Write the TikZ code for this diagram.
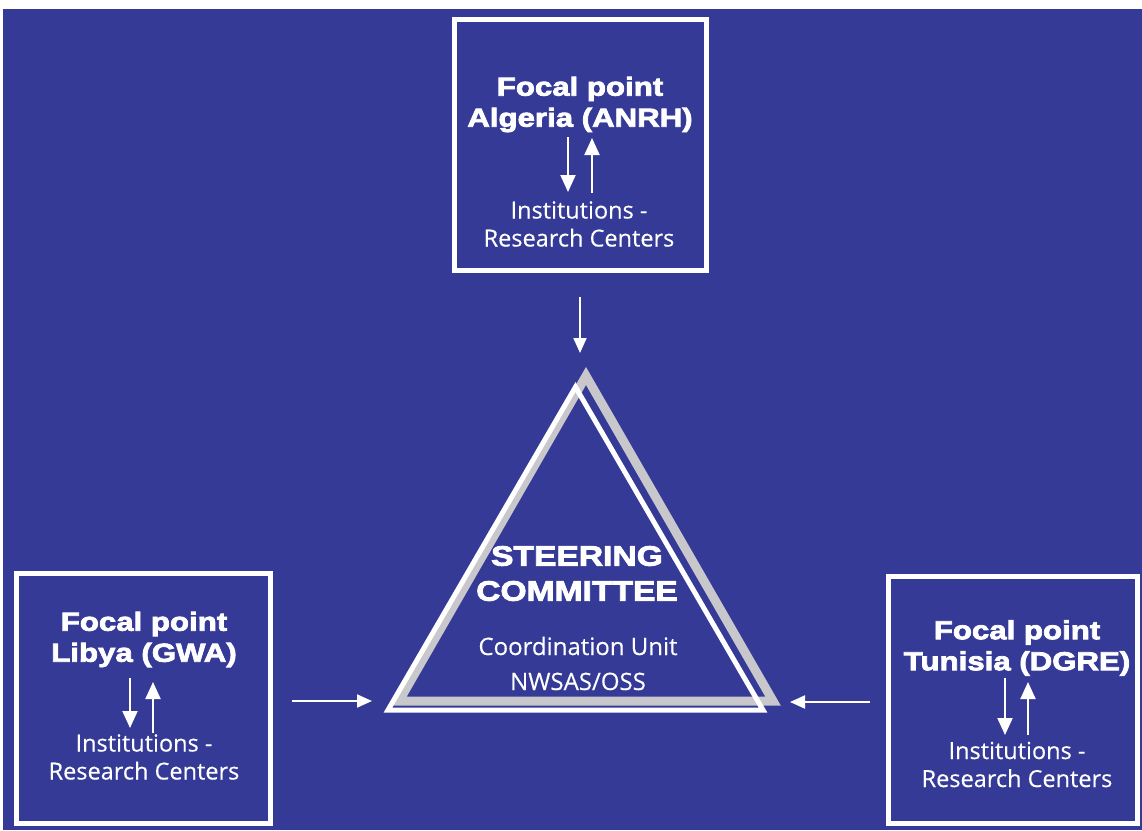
\documentclass[tikz,border=0pt]{standalone}
\usepackage{fontspec}
\setmainfont{Open Sans}
\newfontfamily\heavy{Liberation Sans}[UprightFont={* Bold}, FakeStretch=1.2, FakeBold=3]
\newfontfamily\plain{Open Sans}[FakeBold=0.3]
\usetikzlibrary{arrows.meta}
\definecolor{bgblue}{RGB}{52,58,150}
\definecolor{shadegray}{RGB}{200,200,204}
\begin{document}
\begin{tikzpicture}[x=1pt,y=-1pt,
  frame/.style={draw=white, line width=5pt, inner sep=0pt},
  titletxt/.style={text=white, align=center, font=\heavy\fontsize{26}{31}\selectfont, inner sep=0pt},
  insttxt/.style={text=white, align=center, font=\plain\fontsize{23.5}{28}\selectfont, inner sep=0pt},
  arr/.style={white, line width=2pt, -{Triangle[length=17pt,width=15pt]}},
  farr/.style={white, line width=2pt, -{Triangle[length=15pt,width=13pt]}}]
\useasboundingbox (0,0) rectangle (1142,830);
\fill[white] (0,0) rectangle (1142,830);
\fill[bgblue] (3,9) rectangle (1142,830);

% boxes
\node[frame, minimum width=252pt, minimum height=251pt] (alg) at (580.5,145) {};
\node[frame, minimum width=254pt, minimum height=250pt] (lib) at (143.5,698.5) {};
\node[frame, minimum width=249pt, minimum height=247pt] (tun) at (1013,700) {};

% Algeria
\node[titletxt] (algT) at (580,104.5) {Focal point\\Algeria (ANRH)};
\node[insttxt] (algI) at (579,224) {Institutions -\\Research Centers};
\coordinate (algD1) at (568,137); \coordinate (algD2) at (568,192);
\coordinate (algU1) at (592,193); \coordinate (algU2) at (592,138);
\draw[arr] (algD1) -- (algD2);
\draw[arr] (algU1) -- (algU2);

% Libya
\node[titletxt] (libT) at (144,639.5) {Focal point\\Libya (GWA)};
\node[insttxt] (libI) at (144,757) {Institutions -\\Research Centers};
\coordinate (libD1) at (130,678); \coordinate (libD2) at (130,728);
\coordinate (libU1) at (153,733); \coordinate (libU2) at (153,682);
\draw[arr] (libD1) -- (libD2);
\draw[arr] (libU1) -- (libU2);

% Tunisia
\node[titletxt] (tunT) at (1017,648) {Focal point\\Tunisia (DGRE)};
\node[insttxt] (tunI) at (1017,764.5) {Institutions -\\Research Centers};
\coordinate (tunD1) at (1005,678); \coordinate (tunD2) at (1005,735);
\coordinate (tunU1) at (1028,735); \coordinate (tunU2) at (1028,682);
\draw[arr] (tunD1) -- (tunD2);
\draw[arr] (tunU1) -- (tunU2);

% triangle
\coordinate (gA) at (586,376); \coordinate (gB) at (399,701); \coordinate (gC) at (773,701);
\coordinate (wA) at (575.5,387); \coordinate (wB) at (388,710); \coordinate (wC) at (763,710);
\draw[draw=shadegray, line width=9pt, line join=miter] (gA) -- (gB) -- (gC) -- cycle;
\draw[draw=white, line width=5pt, line join=miter] (wA) -- (wB) -- (wC) -- cycle;
\node[titletxt, font=\heavy\fontsize{28}{35}\selectfont] (sc) at (577,573.5) {STEERING\\COMMITTEE};
\node[insttxt, font=\plain\fontsize{24}{35}\selectfont] (cu) at (578,663.5) {Coordination Unit\\NWSAS/OSS};

% external arrows
\coordinate (tS) at (580,297); \coordinate (tE) at (580,353);
\coordinate (lS) at (292,701); \coordinate (lE) at (372,701);
\coordinate (rS) at (870,702); \coordinate (rE) at (790,702);
\draw[farr] (tS) -- (tE);
\draw[farr] (lS) -- (lE);
\draw[farr] (rS) -- (rE);
\end{tikzpicture}
\end{document}
